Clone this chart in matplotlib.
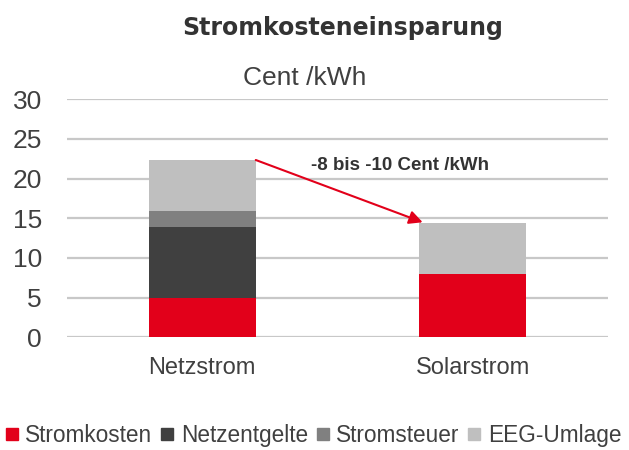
import matplotlib
matplotlib.use("Agg")
import matplotlib.pyplot as plt
from matplotlib.lines import Line2D
import numpy as np

plt.rcParams['font.family'] = ['Liberation Sans', 'DejaVu Sans']

kategorien = ['Netzstrom', 'Solarstrom']
stromkosten = [5.0, 8.0]
netzentgelte = [8.9, 0.0]
stromsteuer = [2.05, 0.0]
eeg_umlage = [6.4, 6.45]
serien = ['Stromkosten', 'Netzentgelte', 'Stromsteuer', 'EEG-Umlage']
farben = ['#e2001a', '#404040', '#808080', '#bfbfbf']
yticks = [0, 5, 10, 15, 20, 25, 30]

fig = plt.figure(figsize=(6.29, 4.5), dpi=100)
ax = fig.add_axes([0.1065, 0.2504, 0.86, 0.5289])

x = np.arange(len(kategorien))
breite = 0.396
unten = np.zeros(len(kategorien))
for werte, farbe in zip([stromkosten, netzentgelte, stromsteuer, eeg_umlage], farben):
    ax.bar(x, werte, breite, bottom=unten, color=farbe, zorder=3)
    unten = unten + np.array(werte)

ax.set_xlim(-0.5, 1.5)
ax.set_ylim(0, 30)
ax.set_yticks(yticks)
ax.set_xticks(x)
ax.set_xticklabels(kategorien, fontsize=17, color='#404040')
ax.tick_params(axis='y', labelsize=19, labelcolor='#404040', length=0, pad=18)
ax.tick_params(axis='x', length=0, pad=14)
ax.grid(axis='y', color='#c8c8c8', linewidth=1.6, zorder=0)
for s in ax.spines.values():
    s.set_visible(False)

# Pfeil von Netzstrom zu Solarstrom
ax.annotate('', xy=(x[1] - 0.185, unten[1] + 0.05), xytext=(x[0] + breite / 2, unten[0]),
            arrowprops=dict(arrowstyle='-|>', color='#e2001a', lw=1.5,
                            mutation_scale=20, shrinkA=0, shrinkB=0), zorder=4)
ax.text(0.73, 21.7, '-8 bis -10 Cent /kWh', fontsize=13.5, fontweight='bold',
        color='#333333', ha='center', va='center')

fig.text(0.545, 0.937, 'Stromkosteneinsparung', fontsize=17, fontweight='bold',
         family='DejaVu Sans', color='#333333', ha='center', va='center')
fig.text(0.485, 0.826, 'Cent /kWh', fontsize=19, color='#404040', ha='center', va='center')

handles = [Line2D([0], [0], marker='s', linestyle='', markersize=9,
                  markerfacecolor=f, markeredgecolor=f) for f in farben]
fig.legend(handles, serien, loc='center left', bbox_to_anchor=(0.008, 0.032), ncol=4,
           frameon=False, fontsize=16.3, handlelength=0.6, handletextpad=0.3,
           columnspacing=0.35, borderpad=0, borderaxespad=0, labelcolor='#404040')

fig.savefig('out.png', dpi=100)
